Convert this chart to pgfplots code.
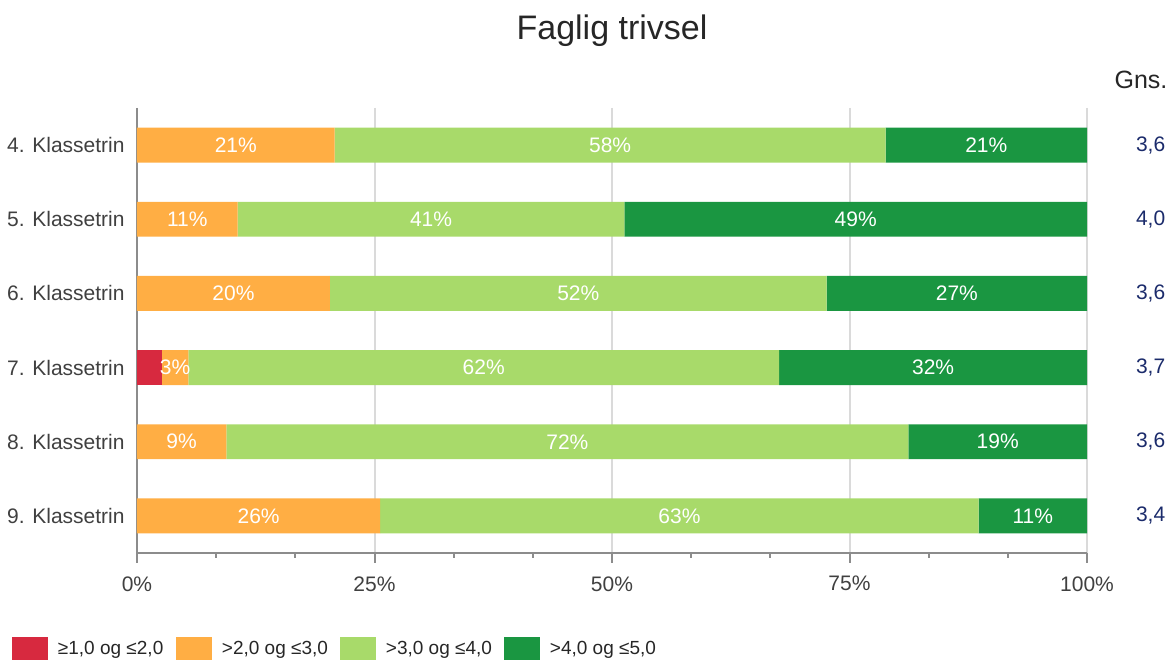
\documentclass[border=0pt]{standalone}
\usepackage{pgfplots}
\pgfplotsset{compat=1.18}
\usepackage{pgfplotstable}
\usepackage{fontspec}
\setmainfont{Liberation Sans}
\definecolor{cRed}{HTML}{D7293F}
\definecolor{cOrange}{HTML}{FFAE44}
\definecolor{cLight}{HTML}{A8DA6A}
\definecolor{cDark}{HTML}{1A9641}
\definecolor{axisgray}{HTML}{8C8C8C}
\definecolor{gridgray}{HTML}{DADADA}
\definecolor{txtgray}{HTML}{404040}
\definecolor{navy}{HTML}{1B2B6B}
\pgfplotstableread{
y a b c d
1 0 20.8 58.0 21.2
2 0 10.6 40.7 48.7
3 0 20.3 52.3 27.4
4 2.6 2.8 62.2 32.4
5 0 9.4 71.8 18.8
6 0 25.6 63.0 11.4
}\data
\begin{document}
\begin{tikzpicture}
\begin{axis}[
 at={(0,0)}, anchor=south west,
 scale only axis, width=475pt, height=222.5pt,
 xbar stacked, bar width=0.47,
 xmin=0, xmax=100, ymin=0.5, ymax=6.5, y dir=reverse, enlargelimits=false,
 axis x line*=bottom, axis y line*=left,
 axis line style={draw=axisgray, line width=1pt},
 xtick={0,25,50,75,100}, xticklabels={0\%,25\%,50\%,75\%,100\%},
 minor xtick={8.3333,16.6667,33.3333,41.6667,58.3333,66.6667,83.3333,91.6667},
 tick align=outside, major tick length=5pt, minor tick length=2.5pt,
 x tick style={draw=axisgray, line width=1pt},
 xmajorgrids, major grid style={draw=gridgray, line width=1pt},
 ytick={1,2,3,4,5,6},
 yticklabels={4. Klassetrin,5. Klassetrin,6. Klassetrin,7. Klassetrin,8. Klassetrin,9. Klassetrin},
 y tick style={draw=none},
 tick label style={font=\fontsize{10.5}{12}\selectfont, text=txtgray},
 yticklabel style={inner sep=1pt},
 xticklabel style={inner sep=1pt, yshift=-5.5pt},
 /pgf/number format/assume math mode=true,
 title={Faglig trivsel},
 title style={at={(axis description cs:0.5,1.128)}, anchor=base, font=\fontsize{17}{20}\selectfont, text=black!85},
 clip=false,
 legend columns=4,
 legend style={at={(axis description cs:-0.1316,-0.2157)}, anchor=west, draw=none, fill=none,
   inner sep=0pt, outer sep=0pt, font=\fontsize{9.5}{11}\selectfont, text=black!85,
   nodes={inner sep=0pt},
   /tikz/every odd column/.append style={column sep=5pt}},
 every axis plot post/.append style={legend image code/.code={\fill[##1] (0pt,-5.75pt) rectangle (18pt,5.75pt);}},
]
\addplot[fill=cRed, draw=none] table[x=a, y=y]{\data};
\addlegendentry{\makebox[59pt][l]{≥1,0 og ≤2,0}}
\addplot[fill=cOrange, draw=none] table[x=b, y=y]{\data};
\addlegendentry{\makebox[59pt][l]{>2,0 og ≤3,0}}
\addplot[fill=cLight, draw=none] table[x=c, y=y]{\data};
\addlegendentry{\makebox[59pt][l]{>3,0 og ≤4,0}}
\addplot[fill=cDark, draw=none] table[x=d, y=y]{\data};
\addlegendentry{\makebox[59pt][l]{>4,0 og ≤5,0}}
\node[anchor=base, font=\fontsize{12.5}{14}\selectfont, text=black!85] at (axis description cs:1.0568,1.043) {Gns.};
\node[font=\fontsize{10.5}{12}\selectfont, text=navy] at (axis cs:106.7,1) {3,6};
\node[font=\fontsize{10.5}{12}\selectfont, text=navy] at (axis cs:106.7,2) {4,0};
\node[font=\fontsize{10.5}{12}\selectfont, text=navy] at (axis cs:106.7,3) {3,6};
\node[font=\fontsize{10.5}{12}\selectfont, text=navy] at (axis cs:106.7,4) {3,7};
\node[font=\fontsize{10.5}{12}\selectfont, text=navy] at (axis cs:106.7,5) {3,6};
\node[font=\fontsize{10.5}{12}\selectfont, text=navy] at (axis cs:106.7,6) {3,4};
\coordinate (bbsw) at (axis description cs:-0.14421,-0.24494);
\coordinate (bbne) at (axis description cs:1.08947,1.24270);
\end{axis}
\begin{axis}[
 at={(0,0)}, anchor=south west,
 scale only axis, width=475pt, height=222.5pt,
 xmin=0, xmax=100, ymin=0.5, ymax=6.5, y dir=reverse, enlargelimits=false,
 hide axis, clip=false,
 /pgf/number format/assume math mode=true,
 every node near coord/.append style={anchor=center, text=white, font=\fontsize{10.5}{12}\selectfont},
 nodes near coords={\pgfmathprintnumber[fixed,precision=0,assume math mode=true]{\pgfplotspointmeta}\%},
 point meta=explicit,
]
\addplot[draw=none, mark=none] table[x expr=\thisrow{a}+0.5*\thisrow{b}, y=y, meta=b]{\data};
\addplot[draw=none, mark=none] table[x expr=\thisrow{a}+\thisrow{b}+0.5*\thisrow{c}, y=y, meta=c]{\data};
\addplot[draw=none, mark=none] table[x expr=\thisrow{a}+\thisrow{b}+\thisrow{c}+0.5*\thisrow{d}, y=y, meta=d]{\data};
\end{axis}
\pgfresetboundingbox
\path[use as bounding box] (bbsw) rectangle (bbne);
\end{tikzpicture}
\end{document}
